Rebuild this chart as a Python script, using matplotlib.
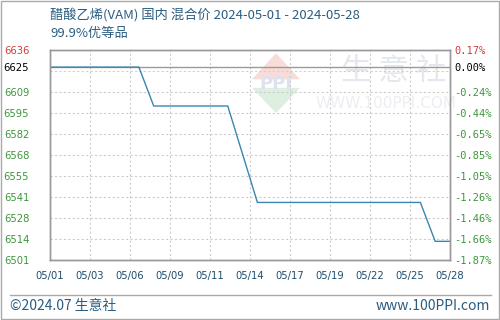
import numpy as np
import matplotlib
matplotlib.use("Agg")
import matplotlib.pyplot as plt
from matplotlib.patches import Rectangle, Polygon
from matplotlib.lines import Line2D

# ---- data ----
days = ["05/%02d" % d for d in range(1, 29)]
prices = [6625, 6625, 6625, 6625, 6625, 6625, 6625, 6600, 6600, 6600,
          6600, 6600, 6600, 6569, 6538, 6538, 6538, 6538, 6538, 6538,
          6538, 6538, 6538, 6538, 6538, 6538, 6513, 6513]
xtick_labels = ["05/01", "05/03", "05/06", "05/09", "05/11", "05/14",
                "05/17", "05/19", "05/22", "05/25", "05/28"]
y_left_labels = ["6501", "6514", "6528", "6541", "6555", "6568",
                 "6582", "6595", "6609", "6625", "6636"]
y_right_labels = ["-1.87%", "-1.66%", "-1.46%", "-1.26%", "-1.05%", "-0.85%",
                  "-0.65%", "-0.44%", "-0.24%", "0.00%", "0.17%"]
base = 6625
ymin, ymax = 6501, 6636
title1 = "醋酸乙烯(VAM) 国内 混合价 2024-05-01 - 2024-05-28"
title2 = "99.9%优等品"

cjk = ["Noto Sans CJK SC", "DejaVu Sans"]
title_col = "#2a5d80"
green = "#3d963d"
red = "#d23c3c"

fig = plt.figure(figsize=(5, 3.2), dpi=100)
ax = fig.add_axes([0.1, 0.1875, 0.8, 0.65625])

x = np.arange(len(prices))
n = len(prices) - 1
ax.set_xlim(0, n)
ax.set_ylim(ymin, ymax)

# grid
step = (ymax - ymin) / 10
grid_y = [ymin + step * k for k in range(11)]
for i, gy in enumerate(grid_y):
    col = "#f2c9a0" if i == 9 else "#cccccc"
    ax.axhline(gy, color=col, lw=0.8, ls=(0, (2, 2)), zorder=1)
xt = [n * k / 10 for k in range(11)]
for gx in xt:
    ax.axvline(gx, color="#cccccc", lw=0.8, ls=(0, (2, 2)), zorder=1)
ax.axhline(base, color="#9a9a9a", lw=1.0, zorder=2)

# watermark (faint logo)
ax.add_patch(Polygon([(0.505, 0.86), (0.565, 0.985), (0.625, 0.86)], closed=True,
                     transform=ax.transAxes, color="#f8dcd8", zorder=0, lw=0))
ax.add_patch(Polygon([(0.505, 0.82), (0.565, 0.70), (0.625, 0.82)], closed=True,
                     transform=ax.transAxes, color="#dcefe0", zorder=0, lw=0))
ax.text(0.565, 0.84, "PPI", transform=ax.transAxes, ha="center", va="center",
        fontsize=13, fontweight="bold", color="#dde2ee", zorder=0)
ax.text(0.86, 0.90, "生 意 社", transform=ax.transAxes, ha="center", va="center",
        fontsize=22, color="#e4e7ee", family=cjk, zorder=0)
ax.text(0.84, 0.745, "WWW.100PPI.COM", transform=ax.transAxes, ha="center",
        va="center", fontsize=11, color="#eceef2", zorder=0)

ax.plot(x, prices, color="#3a86b0", lw=1.0, zorder=3)

ax.set_xticks(xt)
ax.set_xticklabels(xtick_labels, fontsize=7.2, color="#1e4d6e")
ax.tick_params(axis="x", length=0, pad=8)

ytick_pos = grid_y[:9] + [base, ymax]
ax.set_yticks(ytick_pos)
ax.set_yticklabels(y_left_labels, fontsize=7.2)
ax.tick_params(axis="y", length=0, pad=15)
for i, lab in enumerate(ax.get_yticklabels()):
    lab.set_color(red if i == 10 else ("black" if i == 9 else green))

ax2 = ax.twinx()
ax2.set_ylim(ymin, ymax)
ax2.set_yticks(ytick_pos)
ax2.set_yticklabels(y_right_labels, fontsize=7.5, family="DejaVu Sans Mono")
ax2.tick_params(axis="y", length=0, pad=3)
for i, lab in enumerate(ax2.get_yticklabels()):
    lab.set_color(red if i == 10 else ("black" if i == 9 else green))

for a in (ax, ax2):
    for s in a.spines.values():
        s.set_color("#999999")
        s.set_linewidth(1.0)

# titles
fig.text(0.1, 0.955, title1, fontsize=9.5, color=title_col, family=cjk, va="center")
fig.text(0.1, 0.895, title2, fontsize=9.5, color=title_col, family=cjk, va="center")

# footer
fig.add_artist(Line2D([0.02, 0.982], [0.078, 0.078], color="#aaaaaa", lw=1.0))
fig.text(0.02, 0.045, "©2024.07 生意社", fontsize=10, color=title_col,
         family=cjk, va="center")
fig.text(0.98, 0.045, "www.100PPI.com", fontsize=10, color=title_col,
         family=cjk, va="center", ha="right")

# outer frame
fig.add_artist(Rectangle((0.001, 0.002), 0.997, 0.996, transform=fig.transFigure,
                         fill=False, edgecolor="#aaaaaa", lw=1.0))

fig.savefig("out.png", dpi=100)
